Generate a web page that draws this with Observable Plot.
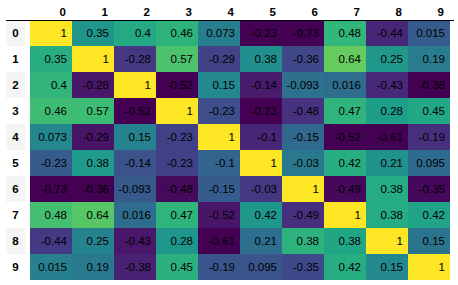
<!DOCTYPE html>
<html><head><meta charset="utf-8">
<script src="https://cdn.jsdelivr.net/npm/d3@7"></script>
<script src="https://cdn.jsdelivr.net/npm/@observablehq/plot@0.6"></script>
<style>html,body{margin:0;padding:0;background:#fff;}</style>
</head><body><div id="chart"></div>
<script>
const labels = ["0","1","2","3","4","5","6","7","8","9"];
const r0 = [1, 0.35, 0.4, 0.46, 0.073, -0.23, -0.73, 0.48, -0.44, 0.015];
const r1 = [0.35, 1, -0.28, 0.57, -0.29, 0.38, -0.36, 0.64, 0.25, 0.19];
const r2 = [0.4, -0.28, 1, -0.52, 0.15, -0.14, -0.093, 0.016, -0.43, -0.38];
const r3 = [0.46, 0.57, -0.52, 1, -0.23, -0.23, -0.48, 0.47, 0.28, 0.45];
const r4 = [0.073, -0.29, 0.15, -0.23, 1, -0.1, -0.15, -0.52, -0.61, -0.19];
const r5 = [-0.23, 0.38, -0.14, -0.23, -0.1, 1, -0.03, 0.42, 0.21, 0.095];
const r6 = [-0.73, -0.36, -0.093, -0.48, -0.15, -0.03, 1, -0.49, 0.38, -0.35];
const r7 = [0.48, 0.64, 0.016, 0.47, -0.52, 0.42, -0.49, 1, 0.38, 0.42];
const r8 = [-0.44, 0.25, -0.43, 0.28, -0.61, 0.21, 0.38, 0.38, 1, 0.15];
const r9 = [0.015, 0.19, -0.38, 0.45, -0.19, 0.095, -0.35, 0.42, 0.15, 1];
const matrix = [r0, r1, r2, r3, r4, r5, r6, r7, r8, r9];

// per-column normalisation (like pandas background_gradient, axis=0)
const colMin = labels.map((_, j) => d3.min(matrix, r => r[j]));
const colMax = labels.map((_, j) => d3.max(matrix, r => r[j]));
const data = [];
matrix.forEach((r, i) => r.forEach((v, j) => {
  data.push({row: labels[i], col: labels[j], value: v, t: (v - colMin[j]) / (colMax[j] - colMin[j])});
}));

const W = 458, H = 285, mL = 25, mR = 4, mT = 20, mB = 5;
const bw = (W - mL - mR) / labels.length;
const chart = Plot.plot({
  width: W, height: H,
  marginLeft: mL, marginRight: mR, marginTop: mT, marginBottom: mB,
  x: {type: "band", domain: labels, padding: 0, axis: null},
  y: {type: "band", domain: labels, padding: 0, axis: null},
  color: {type: "linear", scheme: "viridis", domain: [0, 1]},
  style: {fontFamily: "'Liberation Sans', Arial, sans-serif", fontSize: "11.5px", background: "white", color: "black"},
  marks: [
    Plot.cell(labels.filter((d, i) => i % 2 === 0), {y: d => d, fill: "#f5f5f5", insetLeft: -19, insetRight: W - mL - mR}),
    Plot.cell(data, {x: "col", y: "row", fill: "t", inset: 0}),
    Plot.text(data, {x: "col", y: "row", text: d => String(d.value), textAnchor: "end", dx: bw / 2 - 6, fill: "black"}),
    Plot.text(labels, {y: d => d, text: d => d, frameAnchor: "left", dx: -10, textAnchor: "middle", fontWeight: "bold", fill: "black"}),
    Plot.text(labels, {x: d => d, text: d => d, frameAnchor: "top", dy: -13, textAnchor: "end", dx: bw / 2 - 7, fontWeight: "bold", fill: "black"}),
    Plot.ruleY([labels[0]], {y: d => d, dy: -13, insetLeft: -19, stroke: "black", strokeWidth: 1})
  ]
});
document.getElementById("chart").appendChild(chart);
</script>
</body></html>
